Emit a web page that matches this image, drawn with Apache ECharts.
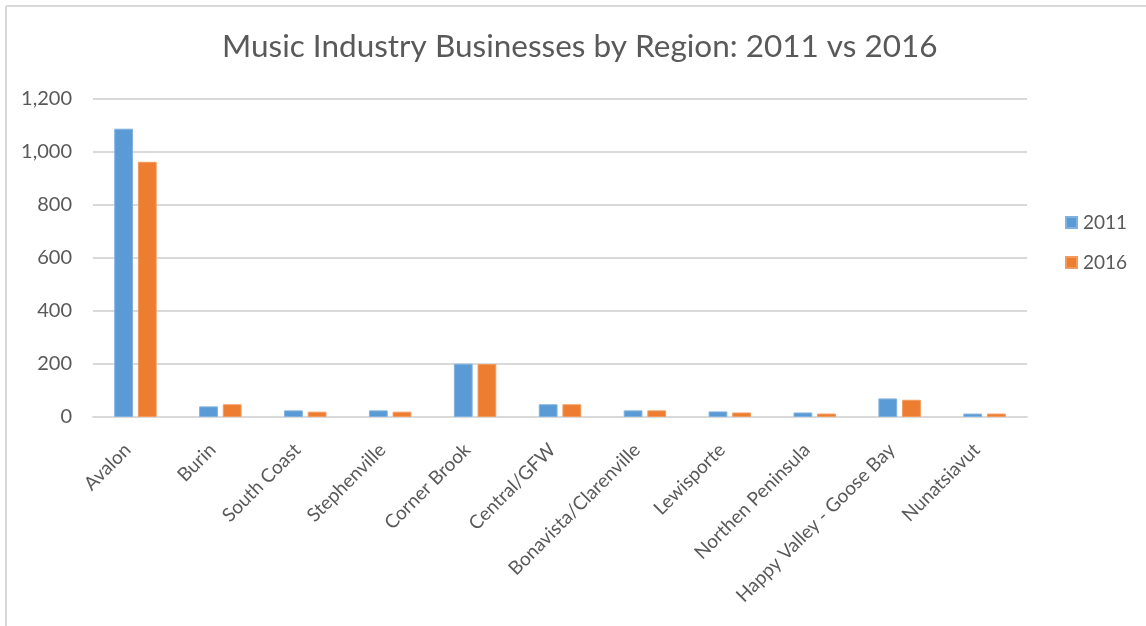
<!DOCTYPE html>
<html>
<head>
<meta charset="utf-8">
<script src="https://cdn.jsdelivr.net/npm/echarts@6/dist/echarts.min.js"></script>
<style>
  html, body { margin: 0; padding: 0; background: #ffffff; }
  #chart { width: 1146px; height: 626px; }
</style>
</head>
<body>
<div id="chart"></div>
<script>
// Regions and business counts per census year
const regions = [
  'Avalon', 'Burin', 'South Coast', 'Stephenville', 'Corner Brook',
  'Central/GFW', 'Bonavista/Clarenville', 'Lewisporte', 'Northen Peninsula',
  'Happy Valley - Goose Bay', 'Nunatsiavut'
];
const values2011 = [1088, 40, 25, 25, 201, 48, 25, 21, 17, 70, 13];
const values2016 = [963, 48, 20, 20, 200, 48, 25, 17, 13, 65, 13];
const seriesNames = ['2011', '2016'];

const textColor = '#595959';
const gridColor = '#d9d9d9';
const fontFamily = 'Lato, "Open Sans", sans-serif';

const chart = echarts.init(document.getElementById('chart'), null, { renderer: 'canvas' });

chart.setOption({
  backgroundColor: '#ffffff',
  animation: false,
  title: {
    text: 'Music Industry Businesses by Region: 2011 vs 2016',
    left: 217,
    top: 26,
    textStyle: { color: textColor, fontSize: 31.5, fontWeight: 'normal', fontFamily: fontFamily }
  },
  legend: {
    orient: 'vertical',
    left: 1065,
    top: 213,
    padding: 0,
    itemWidth: 11,
    itemHeight: 11,
    itemGap: 21,
    icon: 'rect',
    data: seriesNames,
    textStyle: { color: textColor, fontSize: 19, fontFamily: fontFamily, padding: [0, 0, 0, 1] }
  },
  grid: { left: 93, right: 119, top: 99, bottom: 209, containLabel: false },
  xAxis: {
    type: 'category',
    data: regions,
    axisLine: { show: true, lineStyle: { color: gridColor, width: 2 } },
    axisTick: { show: false },
    axisLabel: {
      rotate: 45,
      interval: 0,
      margin: 22,
      padding: [0, 11, 0, 0],
      color: textColor,
      fontSize: 19,
      fontFamily: fontFamily
    }
  },
  yAxis: {
    type: 'value',
    min: 0,
    max: 1200,
    interval: 200,
    axisLine: { show: false },
    axisTick: { show: false },
    splitLine: { lineStyle: { color: gridColor, width: 2 } },
    axisLabel: {
      color: textColor,
      fontSize: 20,
      fontFamily: fontFamily,
      margin: 21,
      formatter: v => v.toLocaleString('en-US')
    }
  },
  series: [
    {
      name: seriesNames[0],
      type: 'bar',
      data: values2011,
      barGap: '26%',
      barCategoryGap: '50%',
      itemStyle: { color: '#5b9bd5', borderColor: '#7fb2e0', borderWidth: 1 }
    },
    {
      name: seriesNames[1],
      type: 'bar',
      data: values2016,
      itemStyle: { color: '#ed7d31', borderColor: '#f39a5c', borderWidth: 1 }
    }
  ],
  graphic: [
    // frame around the chart area (top and left edges)
    { type: 'line', shape: { x1: 6, y1: 6, x2: 1146, y2: 6 }, style: { stroke: gridColor, lineWidth: 2 } },
    { type: 'line', shape: { x1: 6, y1: 6, x2: 6, y2: 626 }, style: { stroke: gridColor, lineWidth: 2 } }
  ]
});
</script>
</body>
</html>
